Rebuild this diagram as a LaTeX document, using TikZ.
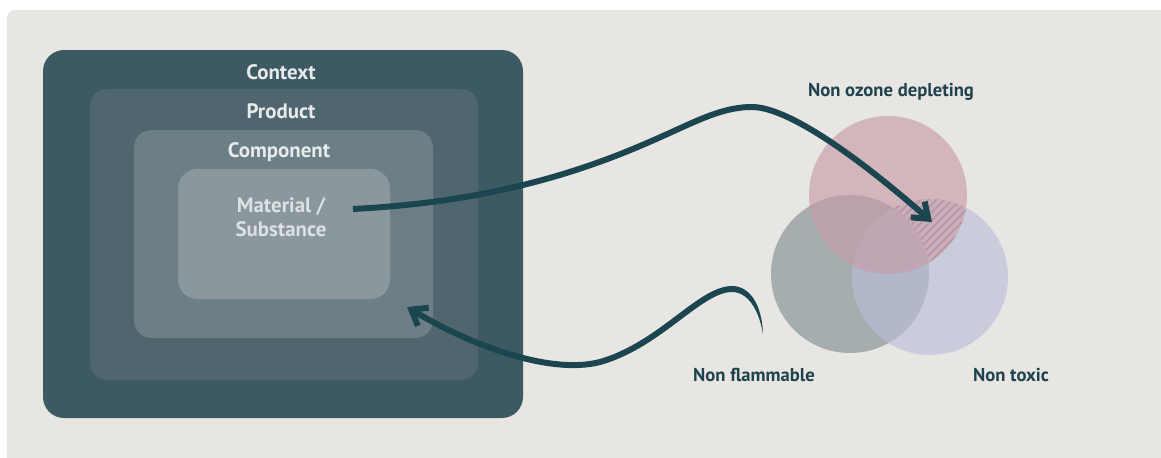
\documentclass[tikz,border=0pt]{standalone}
\usepackage{fontspec}
\setmainfont{PT Sans}
\usetikzlibrary{arrows.meta}

\definecolor{panelgray}{RGB}{232,230,226}
\definecolor{ctxcol}{RGB}{61,89,98}
\definecolor{prodcol}{RGB}{80,102,111}
\definecolor{compcol}{RGB}{108,127,134}
\definecolor{matcol}{RGB}{138,151,157}
\definecolor{boxtext}{RGB}{230,234,235}
\definecolor{mattext}{RGB}{220,225,227}
\definecolor{inkcol}{RGB}{27,70,80}
\definecolor{labelcol}{RGB}{31,67,76}
\definecolor{ozonecol}{RGB}{200,156,168}
\definecolor{flamecol}{RGB}{129,142,146}
\definecolor{toxiccol}{RGB}{186,190,218}
\definecolor{hatchcol}{RGB}{186,146,160}

\tikzset{
  boxlabel/.style={font=\bfseries\fontsize{11.9}{13.6}\selectfont, text=boxtext, align=center},
  venlabel/.style={font=\bfseries\fontsize{10.6}{12}\selectfont, text=labelcol},
  venn/.style={fill opacity=0.64},
  brush/.style={draw=inkcol, line width=3.4pt, line cap=round},
}

\begin{document}
\begin{tikzpicture}[x=0.02cm, y=-0.02cm]
    \useasboundingbox (0,0) rectangle (1161,457);
    % Panel behind everything
    \fill[panelgray, rounded corners=4.5pt] (7,10) rectangle (1175,470);

    % Nested boxes
    \fill[ctxcol, rounded corners=12pt] (43,50) rectangle (523,418);
    \fill[prodcol, rounded corners=10pt] (90,89) rectangle (478,380);
    \fill[compcol, rounded corners=10pt] (134,130) rectangle (433,338);
    \fill[matcol, rounded corners=11pt] (178,169) rectangle (390,299);

    % Box labels
    \node[boxlabel] (ctx) at (281,72) {Context};
    \node[boxlabel] (prod) at (281,111) {Product};
    \node[boxlabel] (comp) at (279,152) {Component};
    \node[boxlabel, text=mattext] (mat) at (281,217) {Material /\\Substance};

    % Venn circles
    \coordinate (ozone) at (888,195);
    \coordinate (flame) at (850,274);
    \coordinate (toxic) at (930,277);
    \fill[venn, flamecol] (flame) circle (79);
    \fill[venn, toxiccol] (toxic) circle (78);
    \fill[venn, ozonecol] (ozone) circle (79);

    % Hatched part: ozone and toxic, not flame
    \begin{scope}
      \clip (ozone) circle (79);
      \clip (toxic) circle (78);
      \begin{scope}[even odd rule]
        \clip (flame) circle (79) (0,0) rectangle (1161,457);
        \foreach \a in {700,708,...,980}
          \draw[hatchcol, line width=0.8pt] (\a,300) -- ++(150,-150);
      \end{scope}
    \end{scope}

    % Venn labels
    \node[venlabel] (ozonelbl) at (891,92) {Non ozone depleting};
    \node[venlabel] (flamelbl) at (754,375) {Non flammable};
    \node[venlabel] (toxiclbl) at (1011,375) {Non toxic};

    % Arrow from material into the hatched part
    \coordinate (matout) at (353,209);
    \coordinate (hatchin) at (932,222);
    \draw[brush, line cap=butt, -{Straight Barb[length=8pt, width=12pt]}]
      (matout) .. controls (470,203) and (560,180) .. (640,146)
      .. controls (690,125) and (718,107) .. (752,107)
      .. controls (785,107) and (850,150) .. (hatchin);

    % Arrow back into the component box
    \coordinate (flick) at (763,334);
    \coordinate (crest) at (732,289);
    \coordinate (compin) at (407,307);
    \fill[inkcol] (flick) .. controls (762,305) and (750,286) .. (732,286)
      -- (732,292) .. controls (748,292) and (759,310) .. (flick) -- cycle;
    \draw[brush, -{Straight Barb[length=8pt, width=12pt]}]
      (crest) .. controls (700,289) and (660,345) .. (600,362)
      .. controls (550,375) and (470,345) .. (compin);
\end{tikzpicture}
\end{document}
